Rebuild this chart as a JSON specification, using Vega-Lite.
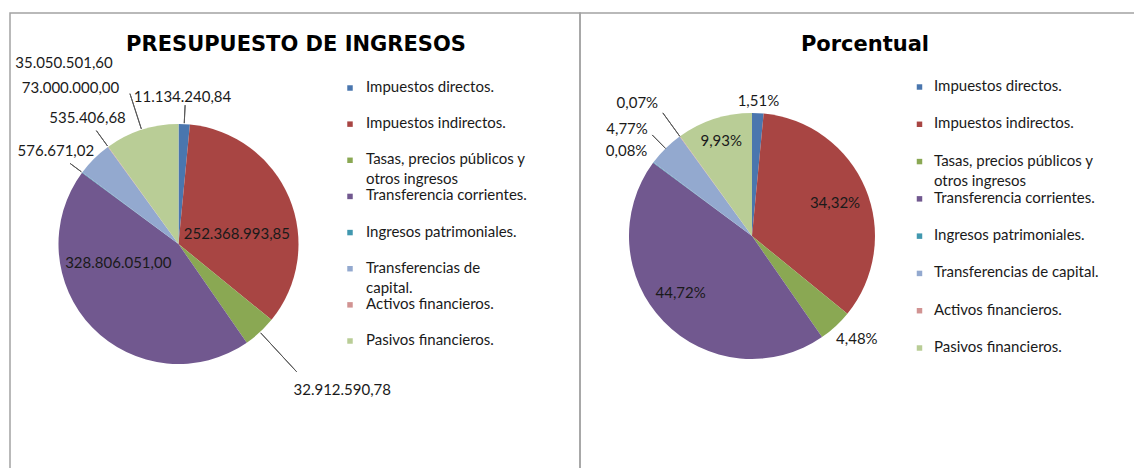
{
  "$schema": "https://vega.github.io/schema/vega-lite/v6.json",
  "background": "white",
  "padding": {"left": 9, "top": 12, "right": 0, "bottom": 0},
  "spacing": 0,
  "bounds": "flush",
  "datasets": {
    "presupuesto": [
      {"categoria": "Impuestos directos.", "importe": 11134240.84, "porcentaje": 0.0151},
      {"categoria": "Impuestos indirectos.", "importe": 252368993.85, "porcentaje": 0.3432},
      {"categoria": "Tasas, precios públicos y otros ingresos", "importe": 32912590.78, "porcentaje": 0.0448},
      {"categoria": "Transferencia corrientes.", "importe": 328806051.00, "porcentaje": 0.4472},
      {"categoria": "Ingresos patrimoniales.", "importe": 576671.02, "porcentaje": 0.0008},
      {"categoria": "Transferencias de capital.", "importe": 35050501.60, "porcentaje": 0.0477},
      {"categoria": "Activos financieros.", "importe": 535406.68, "porcentaje": 0.0007},
      {"categoria": "Pasivos financieros.", "importe": 73000000.00, "porcentaje": 0.0993}
    ]
  },
  "hconcat": [
    {
      "width": 570,
      "height": 456,
      "data": {"name": "presupuesto"},
      "transform": [{"window": [{"op": "row_number", "as": "orden"}]}],
      "resolve": {"scale": {"x": "independent", "y": "independent"}},
      "layer": [
        {
          "data": {"values": [{"titulo": "PRESUPUESTO DE INGRESOS"}]},
          "mark": {"type": "text", "font": "DejaVu Sans", "fontSize": 21, "fontWeight": "bold", "color": "#000000", "align": "center", "baseline": "alphabetic", "clip": true},
          "encoding": {
            "x": {"datum": "titulo", "type": "nominal", "scale": {"type": "point", "align": 0.5018}, "axis": null},
            "y": {"datum": "titulo", "type": "nominal", "scale": {"type": "point", "align": 0.0833}, "axis": null},
            "text": {"field": "titulo", "type": "nominal"}
          }
        },
        {
          "mark": {"type": "arc", "outerRadius": 120},
          "encoding": {
            "x": {"datum": "centro", "type": "nominal", "scale": {"type": "point", "align": 0.2956}, "axis": null},
            "y": {"datum": "centro", "type": "nominal", "scale": {"type": "point", "align": 0.5066}, "axis": null},
            "theta": {"field": "importe", "type": "quantitative", "stack": true},
            "order": {"field": "orden", "type": "quantitative"},
            "color": {"field": "categoria", "type": "nominal", "legend": null,
              "scale": {"domain": ["Impuestos directos.", "Impuestos indirectos.", "Tasas, precios públicos y otros ingresos", "Transferencia corrientes.", "Ingresos patrimoniales.", "Transferencias de capital.", "Activos financieros.", "Pasivos financieros."],
                        "range": ["#4a76ae", "#a84543", "#8aa853", "#71588f", "#4198af", "#93a9cf", "#d19392", "#b9cd96"]}}
          }
        },
        {
          "mark": {"type": "arc", "innerRadius": 121, "outerRadius": 139, "padAngle": 1.2, "filled": false, "stroke": "#595959", "strokeWidth": 1, "clip": true},
          "encoding": {
            "x": {"datum": "centro", "type": "nominal", "scale": {"type": "point", "align": 0.2956}, "axis": null},
            "y": {"datum": "centro", "type": "nominal", "scale": {"type": "point", "align": 0.5066}, "axis": null},
            "theta": {"field": "importe", "type": "quantitative", "stack": true},
            "order": {"field": "orden", "type": "quantitative"},
            "detail": {"field": "categoria", "type": "nominal"},
            "strokeOpacity": {"condition": {"test": "datum.categoria === 'Impuestos directos.'", "value": 1}, "value": 0}
          }
        },
        {
          "mark": {"type": "arc", "innerRadius": 121, "outerRadius": 174, "padAngle": 1.2, "filled": false, "stroke": "#595959", "strokeWidth": 1, "clip": true},
          "encoding": {
            "x": {"datum": "centro", "type": "nominal", "scale": {"type": "point", "align": 0.2956}, "axis": null},
            "y": {"datum": "centro", "type": "nominal", "scale": {"type": "point", "align": 0.5066}, "axis": null},
            "theta": {"field": "importe", "type": "quantitative", "stack": true},
            "order": {"field": "orden", "type": "quantitative"},
            "detail": {"field": "categoria", "type": "nominal"},
            "strokeOpacity": {"condition": {"test": "datum.categoria === 'Tasas, precios públicos y otros ingresos'", "value": 1}, "value": 0}
          }
        },
        {
          "mark": {"type": "arc", "innerRadius": 121, "outerRadius": 135, "padAngle": 1.2, "filled": false, "stroke": "#595959", "strokeWidth": 1, "clip": true},
          "encoding": {
            "x": {"datum": "centro", "type": "nominal", "scale": {"type": "point", "align": 0.2956}, "axis": null},
            "y": {"datum": "centro", "type": "nominal", "scale": {"type": "point", "align": 0.5066}, "axis": null},
            "theta": {"field": "importe", "type": "quantitative", "stack": true},
            "order": {"field": "orden", "type": "quantitative"},
            "detail": {"field": "categoria", "type": "nominal"},
            "strokeOpacity": {"condition": {"test": "datum.categoria === 'Ingresos patrimoniales.'", "value": 1}, "value": 0}
          }
        },
        {
          "mark": {"type": "arc", "innerRadius": 121, "outerRadius": 140, "padAngle": 1.2, "filled": false, "stroke": "#595959", "strokeWidth": 1, "clip": true},
          "encoding": {
            "x": {"datum": "centro", "type": "nominal", "scale": {"type": "point", "align": 0.2956}, "axis": null},
            "y": {"datum": "centro", "type": "nominal", "scale": {"type": "point", "align": 0.5066}, "axis": null},
            "theta": {"field": "importe", "type": "quantitative", "stack": true},
            "order": {"field": "orden", "type": "quantitative"},
            "detail": {"field": "categoria", "type": "nominal"},
            "strokeOpacity": {"condition": {"test": "datum.categoria === 'Activos financieros.'", "value": 1}, "value": 0}
          }
        },
        {
          "mark": {"type": "arc", "innerRadius": 121, "outerRadius": 158, "padAngle": 1.2, "filled": false, "stroke": "#595959", "strokeWidth": 1, "clip": true},
          "encoding": {
            "x": {"datum": "centro", "type": "nominal", "scale": {"type": "point", "align": 0.2956}, "axis": null},
            "y": {"datum": "centro", "type": "nominal", "scale": {"type": "point", "align": 0.5066}, "axis": null},
            "theta": {"field": "importe", "type": "quantitative", "stack": true},
            "order": {"field": "orden", "type": "quantitative"},
            "detail": {"field": "categoria", "type": "nominal"},
            "strokeOpacity": {"condition": {"test": "datum.categoria === 'Pasivos financieros.'", "value": 1}, "value": 0}
          }
        },
        {
          "mark": {"type": "text", "radius": 147, "dx": -3, "clip": true},
          "encoding": {
            "x": {"datum": "centro", "type": "nominal", "scale": {"type": "point", "align": 0.2956}, "axis": null},
            "y": {"datum": "centro", "type": "nominal", "scale": {"type": "point", "align": 0.5066}, "axis": null},
            "theta": {"field": "importe", "type": "quantitative", "stack": true},
            "order": {"field": "orden", "type": "quantitative"},
            "detail": {"field": "categoria", "type": "nominal"},
            "text": {"condition": {"test": "datum.categoria !== 'Impuestos directos.'", "value": ""}, "field": "importe", "type": "quantitative", "format": ",.2f"}
          }
        },
        {
          "mark": {"type": "text", "radius": 60, "dx": 3, "dy": 13, "clip": true},
          "encoding": {
            "x": {"datum": "centro", "type": "nominal", "scale": {"type": "point", "align": 0.2956}, "axis": null},
            "y": {"datum": "centro", "type": "nominal", "scale": {"type": "point", "align": 0.5066}, "axis": null},
            "theta": {"field": "importe", "type": "quantitative", "stack": true},
            "order": {"field": "orden", "type": "quantitative"},
            "detail": {"field": "categoria", "type": "nominal"},
            "text": {"condition": {"test": "datum.categoria !== 'Impuestos indirectos.'", "value": ""}, "field": "importe", "type": "quantitative", "format": ",.2f"}
          }
        },
        {
          "mark": {"type": "text", "radius": 63, "dx": -15, "dy": -25, "clip": true},
          "encoding": {
            "x": {"datum": "centro", "type": "nominal", "scale": {"type": "point", "align": 0.2956}, "axis": null},
            "y": {"datum": "centro", "type": "nominal", "scale": {"type": "point", "align": 0.5066}, "axis": null},
            "theta": {"field": "importe", "type": "quantitative", "stack": true},
            "order": {"field": "orden", "type": "quantitative"},
            "detail": {"field": "categoria", "type": "nominal"},
            "text": {"condition": {"test": "datum.categoria !== 'Transferencia corrientes.'", "value": ""}, "field": "importe", "type": "quantitative", "format": ",.2f"}
          }
        },
        {
          "mark": {"type": "text", "radius": 190, "align": "left", "dx": -14, "dy": 6, "clip": true},
          "encoding": {
            "x": {"datum": "centro", "type": "nominal", "scale": {"type": "point", "align": 0.2956}, "axis": null},
            "y": {"datum": "centro", "type": "nominal", "scale": {"type": "point", "align": 0.5066}, "axis": null},
            "theta": {"field": "importe", "type": "quantitative", "stack": true},
            "order": {"field": "orden", "type": "quantitative"},
            "detail": {"field": "categoria", "type": "nominal"},
            "text": {"condition": {"test": "datum.categoria !== 'Tasas, precios públicos y otros ingresos'", "value": ""}, "field": "importe", "type": "quantitative", "format": ",.2f"}
          }
        },
        {
          "mark": {"type": "text", "radius": 130, "align": "right", "dx": 20, "dy": -15, "clip": true},
          "encoding": {
            "x": {"datum": "centro", "type": "nominal", "scale": {"type": "point", "align": 0.2956}, "axis": null},
            "y": {"datum": "centro", "type": "nominal", "scale": {"type": "point", "align": 0.5066}, "axis": null},
            "theta": {"field": "importe", "type": "quantitative", "stack": true},
            "order": {"field": "orden", "type": "quantitative"},
            "detail": {"field": "categoria", "type": "nominal"},
            "text": {"condition": {"test": "datum.categoria !== 'Ingresos patrimoniales.'", "value": ""}, "field": "importe", "type": "quantitative", "format": ",.2f"}
          }
        },
        {
          "mark": {"type": "text", "radius": 200, "dx": 26, "dy": -39, "clip": true},
          "encoding": {
            "x": {"datum": "centro", "type": "nominal", "scale": {"type": "point", "align": 0.2956}, "axis": null},
            "y": {"datum": "centro", "type": "nominal", "scale": {"type": "point", "align": 0.5066}, "axis": null},
            "theta": {"field": "importe", "type": "quantitative", "stack": true},
            "order": {"field": "orden", "type": "quantitative"},
            "detail": {"field": "categoria", "type": "nominal"},
            "text": {"condition": {"test": "datum.categoria !== 'Transferencias de capital.'", "value": ""}, "field": "importe", "type": "quantitative", "format": ",.2f"}
          }
        },
        {
          "mark": {"type": "text", "radius": 150, "dx": -3, "dy": -5, "clip": true},
          "encoding": {
            "x": {"datum": "centro", "type": "nominal", "scale": {"type": "point", "align": 0.2956}, "axis": null},
            "y": {"datum": "centro", "type": "nominal", "scale": {"type": "point", "align": 0.5066}, "axis": null},
            "theta": {"field": "importe", "type": "quantitative", "stack": true},
            "order": {"field": "orden", "type": "quantitative"},
            "detail": {"field": "categoria", "type": "nominal"},
            "text": {"condition": {"test": "datum.categoria !== 'Activos financieros.'", "value": ""}, "field": "importe", "type": "quantitative", "format": ",.2f"}
          }
        },
        {
          "mark": {"type": "text", "radius": 170, "align": "right", "dx": -7, "dy": 6, "clip": true},
          "encoding": {
            "x": {"datum": "centro", "type": "nominal", "scale": {"type": "point", "align": 0.2956}, "axis": null},
            "y": {"datum": "centro", "type": "nominal", "scale": {"type": "point", "align": 0.5066}, "axis": null},
            "theta": {"field": "importe", "type": "quantitative", "stack": true},
            "order": {"field": "orden", "type": "quantitative"},
            "detail": {"field": "categoria", "type": "nominal"},
            "text": {"condition": {"test": "datum.categoria !== 'Pasivos financieros.'", "value": ""}, "field": "importe", "type": "quantitative", "format": ",.2f"}
          }
        },
        {
          "mark": {"type": "point", "shape": "square", "filled": true, "size": 30, "opacity": 1},
          "encoding": {
            "x": {"datum": "leyenda", "type": "nominal", "scale": {"type": "point", "align": 0.5965}, "axis": null},
            "y": {"field": "categoria", "type": "nominal", "axis": null,
              "scale": {"type": "point", "padding": 0, "range": [75, 328], "domain": ["Impuestos directos.", "Impuestos indirectos.", "Tasas, precios públicos y otros ingresos", "Transferencia corrientes.", "Ingresos patrimoniales.", "Transferencias de capital.", "Activos financieros.", "Pasivos financieros."]}},
            "color": {"field": "categoria", "type": "nominal", "legend": null}
          }
        },
        {
          "mark": {"type": "text", "align": "left", "baseline": "top", "dy": -8, "lineHeight": 20, "clip": true},
          "encoding": {
            "x": {"datum": "leyenda", "type": "nominal", "scale": {"type": "point", "align": 0.6246}, "axis": null},
            "y": {"field": "categoria", "type": "nominal", "axis": null,
              "scale": {"type": "point", "padding": 0, "range": [75, 328], "domain": ["Impuestos directos.", "Impuestos indirectos.", "Tasas, precios públicos y otros ingresos", "Transferencia corrientes.", "Ingresos patrimoniales.", "Transferencias de capital.", "Activos financieros.", "Pasivos financieros."]}},
            "text": {"field": "categoria", "type": "nominal",
              "condition": [
                {"test": "datum.categoria === 'Tasas, precios públicos y otros ingresos'", "value": ["Tasas, precios públicos y", "otros ingresos"]},
                {"test": "datum.categoria === 'Transferencias de capital.'", "value": ["Transferencias de", "capital."]}
              ]}
          }
        }
      ]
    },
    {
      "width": 555,
      "height": 456,
      "data": {"name": "presupuesto"},
      "transform": [{"window": [{"op": "row_number", "as": "orden"}]}],
      "resolve": {"scale": {"x": "independent", "y": "independent"}},
      "layer": [
        {
          "data": {"values": [{"titulo": "Porcentual"}]},
          "mark": {"type": "text", "font": "DejaVu Sans", "fontSize": 21, "fontWeight": "bold", "color": "#000000", "align": "center", "baseline": "alphabetic", "clip": true},
          "encoding": {
            "x": {"datum": "titulo", "type": "nominal", "scale": {"type": "point", "align": 0.5135}, "axis": null},
            "y": {"datum": "titulo", "type": "nominal", "scale": {"type": "point", "align": 0.0833}, "axis": null},
            "text": {"field": "titulo", "type": "nominal"}
          }
        },
        {
          "mark": {"type": "arc", "outerRadius": 123},
          "encoding": {
            "x": {"datum": "centro", "type": "nominal", "scale": {"type": "point", "align": 0.3099}, "axis": null},
            "y": {"datum": "centro", "type": "nominal", "scale": {"type": "point", "align": 0.489}, "axis": null},
            "theta": {"field": "porcentaje", "type": "quantitative", "stack": true},
            "order": {"field": "orden", "type": "quantitative"},
            "color": {"field": "categoria", "type": "nominal", "legend": null,
              "scale": {"domain": ["Impuestos directos.", "Impuestos indirectos.", "Tasas, precios públicos y otros ingresos", "Transferencia corrientes.", "Ingresos patrimoniales.", "Transferencias de capital.", "Activos financieros.", "Pasivos financieros."],
                        "range": ["#4a76ae", "#a84543", "#8aa853", "#71588f", "#4198af", "#93a9cf", "#d19392", "#b9cd96"]}}
          }
        },
        {
          "mark": {"type": "arc", "innerRadius": 123, "outerRadius": 142, "padAngle": 1.2, "filled": false, "stroke": "#595959", "strokeWidth": 1, "clip": true},
          "encoding": {
            "x": {"datum": "centro", "type": "nominal", "scale": {"type": "point", "align": 0.3099}, "axis": null},
            "y": {"datum": "centro", "type": "nominal", "scale": {"type": "point", "align": 0.489}, "axis": null},
            "theta": {"field": "porcentaje", "type": "quantitative", "stack": true},
            "order": {"field": "orden", "type": "quantitative"},
            "detail": {"field": "categoria", "type": "nominal"},
            "strokeOpacity": {"condition": {"test": "datum.categoria === 'Transferencias de capital.'", "value": 1}, "value": 0}
          }
        },
        {
          "mark": {"type": "arc", "innerRadius": 123, "outerRadius": 152, "padAngle": 1.2, "filled": false, "stroke": "#595959", "strokeWidth": 1, "clip": true},
          "encoding": {
            "x": {"datum": "centro", "type": "nominal", "scale": {"type": "point", "align": 0.3099}, "axis": null},
            "y": {"datum": "centro", "type": "nominal", "scale": {"type": "point", "align": 0.489}, "axis": null},
            "theta": {"field": "porcentaje", "type": "quantitative", "stack": true},
            "order": {"field": "orden", "type": "quantitative"},
            "detail": {"field": "categoria", "type": "nominal"},
            "strokeOpacity": {"condition": {"test": "datum.categoria === 'Activos financieros.'", "value": 1}, "value": 0}
          }
        },
        {
          "mark": {"type": "text", "radius": 135, "clip": true},
          "encoding": {
            "x": {"datum": "centro", "type": "nominal", "scale": {"type": "point", "align": 0.3099}, "axis": null},
            "y": {"datum": "centro", "type": "nominal", "scale": {"type": "point", "align": 0.489}, "axis": null},
            "theta": {"field": "porcentaje", "type": "quantitative", "stack": true},
            "order": {"field": "orden", "type": "quantitative"},
            "detail": {"field": "categoria", "type": "nominal"},
            "text": {"condition": {"test": "datum.categoria !== 'Impuestos directos.'", "value": ""}, "field": "porcentaje", "type": "quantitative", "format": ".2%"}
          }
        },
        {
          "mark": {"type": "text", "radius": 90, "dy": 2, "clip": true},
          "encoding": {
            "x": {"datum": "centro", "type": "nominal", "scale": {"type": "point", "align": 0.3099}, "axis": null},
            "y": {"datum": "centro", "type": "nominal", "scale": {"type": "point", "align": 0.489}, "axis": null},
            "theta": {"field": "porcentaje", "type": "quantitative", "stack": true},
            "order": {"field": "orden", "type": "quantitative"},
            "detail": {"field": "categoria", "type": "nominal"},
            "text": {"condition": {"test": "datum.categoria !== 'Impuestos indirectos.'", "value": ""}, "field": "porcentaje", "type": "quantitative", "format": ".2%"}
          }
        },
        {
          "mark": {"type": "text", "radius": 147, "dx": 5, "dy": -5, "clip": true},
          "encoding": {
            "x": {"datum": "centro", "type": "nominal", "scale": {"type": "point", "align": 0.3099}, "axis": null},
            "y": {"datum": "centro", "type": "nominal", "scale": {"type": "point", "align": 0.489}, "axis": null},
            "theta": {"field": "porcentaje", "type": "quantitative", "stack": true},
            "order": {"field": "orden", "type": "quantitative"},
            "detail": {"field": "categoria", "type": "nominal"},
            "text": {"condition": {"test": "datum.categoria !== 'Tasas, precios públicos y otros ingresos'", "value": ""}, "field": "porcentaje", "type": "quantitative", "format": ".2%"}
          }
        },
        {
          "mark": {"type": "text", "radius": 91, "dx": -6, "dy": -6, "clip": true},
          "encoding": {
            "x": {"datum": "centro", "type": "nominal", "scale": {"type": "point", "align": 0.3099}, "axis": null},
            "y": {"datum": "centro", "type": "nominal", "scale": {"type": "point", "align": 0.489}, "axis": null},
            "theta": {"field": "porcentaje", "type": "quantitative", "stack": true},
            "order": {"field": "orden", "type": "quantitative"},
            "detail": {"field": "categoria", "type": "nominal"},
            "text": {"condition": {"test": "datum.categoria !== 'Transferencia corrientes.'", "value": ""}, "field": "porcentaje", "type": "quantitative", "format": ".2%"}
          }
        },
        {
          "mark": {"type": "text", "radius": 150, "dx": -5, "dy": 4, "clip": true},
          "encoding": {
            "x": {"datum": "centro", "type": "nominal", "scale": {"type": "point", "align": 0.3099}, "axis": null},
            "y": {"datum": "centro", "type": "nominal", "scale": {"type": "point", "align": 0.489}, "axis": null},
            "theta": {"field": "porcentaje", "type": "quantitative", "stack": true},
            "order": {"field": "orden", "type": "quantitative"},
            "detail": {"field": "categoria", "type": "nominal"},
            "text": {"condition": {"test": "datum.categoria !== 'Ingresos patrimoniales.'", "value": ""}, "field": "porcentaje", "type": "quantitative", "format": ".2%"}
          }
        },
        {
          "mark": {"type": "text", "radius": 165, "dx": -9, "dy": 10, "clip": true},
          "encoding": {
            "x": {"datum": "centro", "type": "nominal", "scale": {"type": "point", "align": 0.3099}, "axis": null},
            "y": {"datum": "centro", "type": "nominal", "scale": {"type": "point", "align": 0.489}, "axis": null},
            "theta": {"field": "porcentaje", "type": "quantitative", "stack": true},
            "order": {"field": "orden", "type": "quantitative"},
            "detail": {"field": "categoria", "type": "nominal"},
            "text": {"condition": {"test": "datum.categoria !== 'Transferencias de capital.'", "value": ""}, "field": "porcentaje", "type": "quantitative", "format": ".2%"}
          }
        },
        {
          "mark": {"type": "text", "radius": 175, "dx": -12, "dy": 9, "clip": true},
          "encoding": {
            "x": {"datum": "centro", "type": "nominal", "scale": {"type": "point", "align": 0.3099}, "axis": null},
            "y": {"datum": "centro", "type": "nominal", "scale": {"type": "point", "align": 0.489}, "axis": null},
            "theta": {"field": "porcentaje", "type": "quantitative", "stack": true},
            "order": {"field": "orden", "type": "quantitative"},
            "detail": {"field": "categoria", "type": "nominal"},
            "text": {"condition": {"test": "datum.categoria !== 'Activos financieros.'", "value": ""}, "field": "porcentaje", "type": "quantitative", "format": ".2%"}
          }
        },
        {
          "mark": {"type": "text", "radius": 100, "clip": true},
          "encoding": {
            "x": {"datum": "centro", "type": "nominal", "scale": {"type": "point", "align": 0.3099}, "axis": null},
            "y": {"datum": "centro", "type": "nominal", "scale": {"type": "point", "align": 0.489}, "axis": null},
            "theta": {"field": "porcentaje", "type": "quantitative", "stack": true},
            "order": {"field": "orden", "type": "quantitative"},
            "detail": {"field": "categoria", "type": "nominal"},
            "text": {"condition": {"test": "datum.categoria !== 'Pasivos financieros.'", "value": ""}, "field": "porcentaje", "type": "quantitative", "format": ".2%"}
          }
        },
        {
          "mark": {"type": "point", "shape": "square", "filled": true, "size": 30, "opacity": 1},
          "encoding": {
            "x": {"datum": "leyenda", "type": "nominal", "scale": {"type": "point", "align": 0.6117}, "axis": null},
            "y": {"field": "categoria", "type": "nominal", "axis": null,
              "scale": {"type": "point", "padding": 0, "range": [74, 335], "domain": ["Impuestos directos.", "Impuestos indirectos.", "Tasas, precios públicos y otros ingresos", "Transferencia corrientes.", "Ingresos patrimoniales.", "Transferencias de capital.", "Activos financieros.", "Pasivos financieros."]}},
            "color": {"field": "categoria", "type": "nominal", "legend": null}
          }
        },
        {
          "mark": {"type": "text", "align": "left", "baseline": "top", "dy": -8, "lineHeight": 20, "clip": true},
          "encoding": {
            "x": {"datum": "leyenda", "type": "nominal", "scale": {"type": "point", "align": 0.6378}, "axis": null},
            "y": {"field": "categoria", "type": "nominal", "axis": null,
              "scale": {"type": "point", "padding": 0, "range": [74, 335], "domain": ["Impuestos directos.", "Impuestos indirectos.", "Tasas, precios públicos y otros ingresos", "Transferencia corrientes.", "Ingresos patrimoniales.", "Transferencias de capital.", "Activos financieros.", "Pasivos financieros."]}},
            "text": {"field": "categoria", "type": "nominal",
              "condition": [
                {"test": "datum.categoria === 'Tasas, precios públicos y otros ingresos'", "value": ["Tasas, precios públicos y", "otros ingresos"]}
              ]}
          }
        }
      ]
    }
  ],
  "config": {
    "locale": {"number": {"decimal": ",", "thousands": ".", "grouping": [3], "currency": ["", " €"]}},
    "view": {"stroke": "#a3a3a3", "strokeWidth": 1.5},
    "text": {"font": "Lato", "fontSize": 15, "color": "#1a1a1a"}
  }
}
